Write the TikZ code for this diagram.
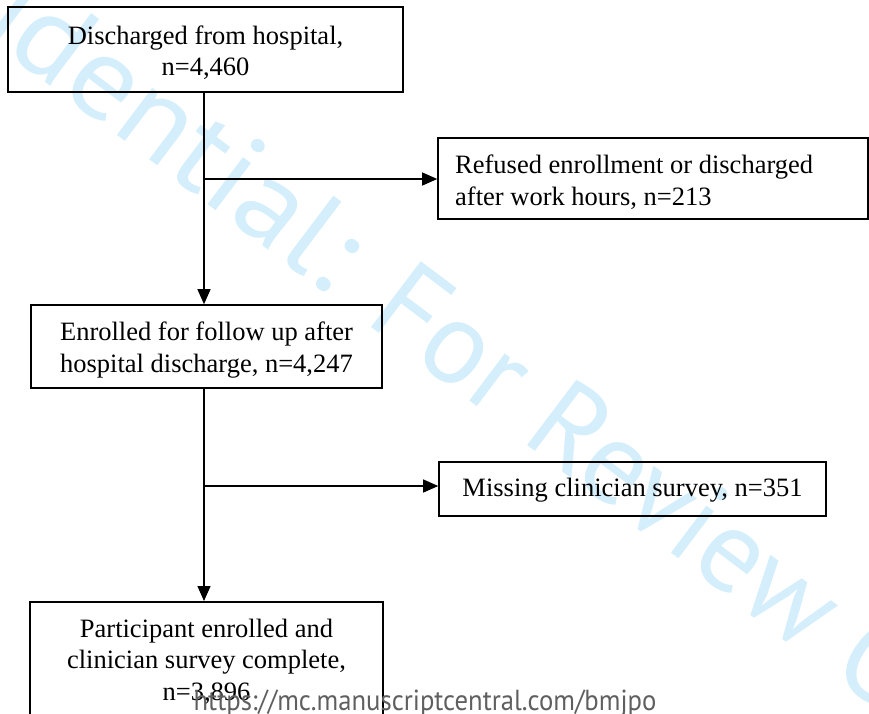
\documentclass[tikz,border=0pt]{standalone}
\usepackage{fontspec}
\setmainfont{Liberation Serif}
\newfontfamily\wmfont{PT Sans}
\usetikzlibrary{arrows.meta}
\definecolor{wmblue}{RGB}{212,238,251}
\definecolor{urlgray}{RGB}{95,95,95}
\tikzset{
  box/.style={draw=black, line width=1.6pt, inner sep=0pt},
  conn/.style={line width=1.2pt, -{Triangle[length=15pt,width=13pt]}},
  txt/.style={inner sep=0pt, align=center, font=\fontsize{26.5}{31.5}\selectfont}
}
\begin{document}
\begin{tikzpicture}[x=1pt,y=-1pt]
\useasboundingbox (0,0) rectangle (869,713);
\begin{scope}
\clip (0,0) rectangle (869,713);
% watermark
\node[inner sep=0pt, anchor=base west, rotate=-37, text=wmblue,
      font=\wmfont\fontsize{118}{118}\selectfont] (wm) at (363,321)
      {\llap{\scalebox{1.07}[1]{Confidential: }}For Review Only};
% boxes
\node[box, minimum width=395, minimum height=85] (b1) at (205.5,49.5) {};
\node[txt] (b1t) at (205.5,52.5) {Discharged from hospital,\\ n=4,460};
\node[box, minimum width=430, minimum height=81] (b2) at (653,178.5) {};
\node[txt, anchor=west, align=left] (b2t) at (455,182)
  {Refused enrollment or discharged\\ after work hours, n=213};
\node[box, minimum width=351, minimum height=83] (b3) at (206.5,346.5) {};
\node[txt] (b3t) at (206.5,350)
  {Enrolled for follow up after\\ hospital discharge, n=4,247};
\node[box, minimum width=387, minimum height=54] (b4) at (632.5,489) {};
\node[txt] (b4t) at (632.5,490.5) {Missing clinician survey, n=351};
\node[box, minimum width=353, minimum height=150, anchor=north] (b5) at (206.5,601) {};
\node[txt, anchor=north] (b5t) at (206.5,618.5)
  {Participant enrolled and\\ clinician survey complete,\\ n=3,896};
% connectors
\coordinate (s1) at (204,92);
\coordinate (j1) at (204,179);
\coordinate (s2) at (204,388);
\coordinate (j2) at (204,486);
\draw[conn] (s1) -- (s1 |- b3.north);
\draw[conn] (j1) -- (j1 -| b2.west);
\draw[conn] (s2) -- (s2 |- b5.north);
\draw[conn] (j2) -- (j2 -| b4.west);
% url
\node[inner sep=0pt, anchor=base, text=urlgray,
      font=\wmfont\fontsize{29}{29}\selectfont] (url) at (425,710)
  {\scalebox{0.92}[1]{https://mc.manuscriptcentral.com/bmjpo}};
\end{scope}
\end{tikzpicture}
\end{document}
